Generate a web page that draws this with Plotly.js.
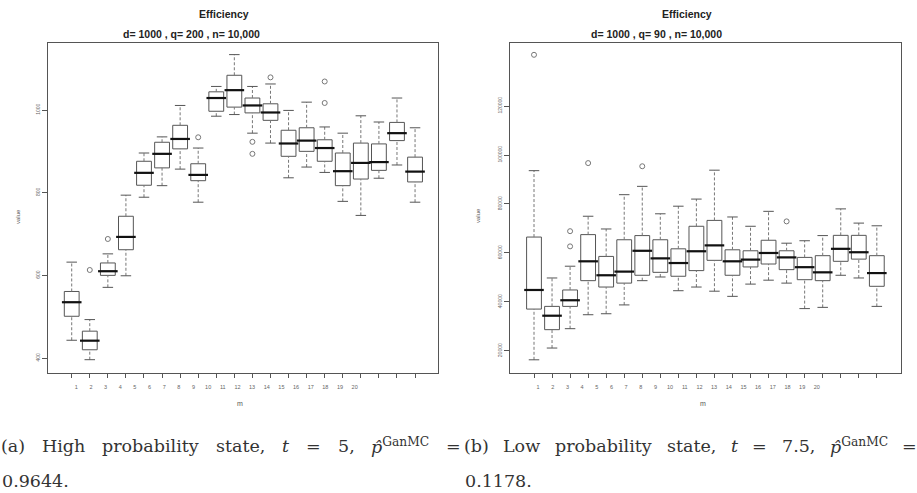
<!DOCTYPE html>
<html>
<head>
<meta charset="utf-8">
<script src="https://cdn.plot.ly/plotly-3.0.1.min.js"></script>
<style>html,body{margin:0;padding:0;background:#fff;}#chart{width:917px;height:493px;}</style>
</head>
<body>
<div id="chart"></div>
<script>
// ---------------- data ----------------
const mVals = [1,2,3,4,5,6,7,8,9,10,11,12,13,14,15,16,17,18,19,20];
const xLabels = ['1','2','3','4','5','6','7','8','9','10','11','12','13','14','15','16','17','18','19','20'];

// (a) high probability state, q = 200
const leftLower  = [443, 396, 571, 599, 789, 817, 857, 777, 985, 989, 944, 920, 836, 862, 849, 779, 745, 835, 867, 777];
const leftQ1     = [501, 420, 600, 662, 818, 860, 906, 829, 997, 1007, 993, 975, 888, 900, 876, 817, 833, 854, 926, 826];
const leftMedian = [535, 442, 610, 693, 848, 894, 930, 843, 1029, 1048, 1011, 994, 919, 926, 908, 852, 872, 874, 944, 851];
const leftQ3     = [561, 465, 630, 743, 876, 922, 963, 870, 1044, 1084, 1029, 1015, 951, 957, 928, 896, 920, 918, 970, 886];
const leftUpper  = [632, 493, 652, 794, 896, 935, 1011, 908, 1057, 1134, 1057, 1063, 999, 1019, 959, 944, 986, 971, 1029, 957];
const leftOutM   = [2, 3, 8, 11, 11, 12, 15, 15];
const leftOutV   = [613, 688, 934, 923, 894, 1079, 1069, 1017];
const leftTickVals = [400, 600, 800, 1000];
const leftTickText = ['400', '600', '800', '1000'];

// (b) low probability state, q = 90
const rightLower  = [16400, 21200, 29100, 34800, 35200, 38800, 48700, 50200, 44600, 46100, 44400, 42300, 47300, 48900, 47700, 37300, 37800, 50900, 49800, 38200];
const rightQ1     = [37100, 28700, 38200, 48700, 46100, 47700, 50900, 52100, 50500, 52800, 57000, 50900, 54300, 55500, 53200, 49100, 48700, 56600, 57500, 46400];
const rightMedian = [44900, 34400, 40700, 56600, 50900, 52400, 60900, 57800, 55900, 60700, 63100, 56600, 57300, 60000, 58200, 54200, 52100, 61700, 60300, 51800];
const rightQ3     = [66500, 38200, 44900, 67500, 58600, 65400, 67100, 65400, 61700, 70900, 73300, 61300, 60900, 65200, 60900, 58200, 58900, 67200, 67200, 58900];
const rightUpper  = [93600, 49800, 54600, 75000, 69800, 83800, 87200, 76000, 79100, 82000, 93800, 74700, 70900, 77000, 64000, 65000, 67100, 78000, 72200, 71100];
const rightOutM   = [1, 3, 3, 4, 7, 15];
const rightOutV   = [140900, 68900, 62700, 96700, 95400, 72900];
const rightTickVals = [20000, 40000, 60000, 80000, 100000, 120000];
const rightTickText = ['20000', '40000', '60000', '80000', '100000', '120000'];

const mainTitle = 'Efficiency';
const leftSub  = 'd= 1000 , q= 200 , n= 10,000';
const rightSub = 'd= 1000 , q= 90 , n= 10,000';

// ---------------- helpers ----------------
const W = 917, H = 493;
const px = x => x / W;
const py = y => 1 - y / H;
const LINE = '#555';

function panelTraces(xa, ya, lo, q1, med, q3, up, outM, outV) {
  const wx = [], wy = [];
  mVals.forEach((m, i) => {
    wx.push(m, m, null, m, m, null);
    wy.push(q3[i], up[i], null, lo[i], q1[i], null);
  });
  return [
    {type: 'box', x: mVals, q1: q1, median: med, q3: q3, lowerfence: q1, upperfence: q3,
     width: 0.82, whiskerwidth: 0, fillcolor: 'white', line: {color: LINE, width: 1},
     boxpoints: false, hoverinfo: 'skip', xaxis: xa, yaxis: ya},
    {type: 'scatter', mode: 'lines', x: wx, y: wy, line: {color: '#777', width: 1, dash: '3px,2px'},
     hoverinfo: 'skip', xaxis: xa, yaxis: ya, connectgaps: false},
    {type: 'scatter', mode: 'markers', x: mVals.concat(mVals), y: lo.concat(up),
     marker: {symbol: 'line-ew', size: 7.5, line: {width: 1, color: LINE}},
     hoverinfo: 'skip', xaxis: xa, yaxis: ya},
    {type: 'scatter', mode: 'markers', x: mVals, y: med,
     marker: {symbol: 'line-ew', size: 14, line: {width: 2.2, color: '#111'}},
     hoverinfo: 'skip', xaxis: xa, yaxis: ya},
    {type: 'scatter', mode: 'markers', x: outM, y: outV,
     marker: {symbol: 'circle-open', size: 5, color: '#777', line: {width: 1, color: '#777'}},
     hoverinfo: 'skip', xaxis: xa, yaxis: ya}
  ];
}

const traces = []
  .concat(panelTraces('x', 'y', leftLower, leftQ1, leftMedian, leftQ3, leftUpper, leftOutM, leftOutV))
  .concat(panelTraces('x2', 'y2', rightLower, rightQ1, rightMedian, rightQ3, rightUpper, rightOutM, rightOutV));
// carriers for the label axes
traces.push({type: 'scatter', mode: 'markers', x: mVals, y: mVals.map(() => null), xaxis: 'x3', yaxis: 'y', hoverinfo: 'skip'});
traces.push({type: 'scatter', mode: 'markers', x: mVals, y: mVals.map(() => null), xaxis: 'x4', yaxis: 'y2', hoverinfo: 'skip'});

const yDom = [py(373), py(43)];
const baseX = {showgrid: false, zeroline: false, showline: true, mirror: true, linecolor: LINE, linewidth: 1,
  tickvals: mVals, showticklabels: false, ticks: 'outside', ticklen: 4, tickcolor: LINE, fixedrange: true};
const baseY = {showgrid: false, zeroline: false, showline: true, mirror: true, linecolor: LINE, linewidth: 1,
  ticks: 'outside', ticklen: 5, tickcolor: LINE, tickangle: -90,
  tickfont: {size: 5, color: '#666'}, domain: yDom, fixedrange: true};
const labX = {showgrid: false, zeroline: false, showline: false, tickvals: mVals, ticktext: xLabels,
  ticks: 'outside', ticklen: 8, tickcolor: 'rgba(0,0,0,0)', tickangle: 0, tickfont: {size: 5.5, color: '#666'}, fixedrange: true};

// caption words, justified with measured widths
const cv = document.createElement('canvas').getContext('2d');
const CAP = 17.5;
const CAPFONT = 'DejaVu Serif';
function meas(t, size, it) { cv.font = (it ? 'italic ' : '') + size + 'px "' + CAPFONT + '"'; return cv.measureText(t).width; }
function justify(words, x0, x1, yy) {
  const ws = words.map(w => w.w);
  const total = ws.reduce((a, b) => a + b, 0);
  const gap = (x1 - x0 - total) / (words.length - 1);
  let x = x0; const out = [];
  words.forEach(w => {
    out.push({x: px(x), y: py(yy), xref: 'paper', yref: 'paper', xanchor: 'left', yanchor: 'middle',
      showarrow: false, text: w.t, borderpad: 0, font: {family: CAPFONT + ', serif', size: CAP, color: '#333'}});
    x += w.w + gap;
  });
  return out;
}
const pw = meas('p', CAP, true) + meas('GanMC', CAP * 0.7, false);
const phat = '<i>p\u0302</i><sup>GanMC</sup>';
const capA = [
  {t: '(a)', w: meas('(a)', CAP)}, {t: 'High', w: meas('High', CAP)}, {t: 'probability', w: meas('probability', CAP)},
  {t: 'state,', w: meas('state,', CAP)}, {t: '<i>t</i>', w: meas('t', CAP, true)}, {t: '=', w: meas('=', CAP)},
  {t: '5,', w: meas('5,', CAP)}, {t: phat, w: pw}, {t: '=', w: meas('=', CAP)}];
const capB = [
  {t: '(b)', w: meas('(b)', CAP)}, {t: 'Low', w: meas('Low', CAP)}, {t: 'probability', w: meas('probability', CAP)},
  {t: 'state,', w: meas('state,', CAP)}, {t: '<i>t</i>', w: meas('t', CAP, true)}, {t: '=', w: meas('=', CAP)},
  {t: '7.5,', w: meas('7.5,', CAP)}, {t: phat, w: pw}, {t: '=', w: meas('=', CAP)}];

function ann(text, x, y, size, extra) {
  return Object.assign({x: px(x), y: py(y), xref: 'paper', yref: 'paper', xanchor: 'center', yanchor: 'middle',
    showarrow: false, text: text, font: {family: 'Liberation Sans, Arial, sans-serif', size: size, color: '#222'}}, extra || {});
}

const annotations = [
  ann('<b>' + mainTitle + '</b>', 224, 14, 10.5),
  ann('<b>' + leftSub + '</b>', 191, 34, 10.5),
  ann('<b>' + mainTitle + '</b>', 687, 14, 10.5),
  ann('<b>' + rightSub + '</b>', 656, 34, 10.5),
  ann('value', 18, 217, 6, {textangle: -90, font: {family: 'Liberation Sans, Arial, sans-serif', size: 6, color: '#555'}}),
  ann('value', 478, 215, 6, {textangle: -90, font: {family: 'Liberation Sans, Arial, sans-serif', size: 6, color: '#555'}}),
  ann('m', 240, 403, 7, {font: {family: 'Liberation Sans, Arial, sans-serif', size: 7, color: '#555'}}),
  ann('m', 703, 403, 7, {font: {family: 'Liberation Sans, Arial, sans-serif', size: 7, color: '#555'}}),
  ann('0.9644.', 0, 481, CAP, {xanchor: 'left', font: {family: CAPFONT + ', serif', size: CAP, color: '#333'}}),
  ann('0.1178.', 463, 481, CAP, {xanchor: 'left', font: {family: CAPFONT + ', serif', size: CAP, color: '#333'}})
].concat(justify(capA, 0, 460, 446)).concat(justify(capB, 463, 916, 446));

const layout = {
  width: W, height: H, margin: {l: 0, r: 0, t: 0, b: 0},
  paper_bgcolor: 'white', plot_bgcolor: 'white', showlegend: false,
  font: {family: 'Liberation Sans, Arial, sans-serif', color: '#333'},
  xaxis: Object.assign({}, baseX, {domain: [px(48), px(438)], range: [-0.312, 21.27], anchor: 'y'}),
  yaxis: Object.assign({}, baseY, {range: [363.8, 1162.1], tickvals: leftTickVals, ticktext: leftTickText, anchor: 'x'}),
  xaxis2: Object.assign({}, baseX, {domain: [px(510), px(901)], range: [-0.33, 21.34], anchor: 'y2'}),
  yaxis2: Object.assign({}, baseY, {range: [11010, 145717], tickvals: rightTickVals, ticktext: rightTickText, anchor: 'x2'}),
  xaxis3: Object.assign({}, labX, {overlaying: 'x', anchor: 'y', range: [-0.932, 25.69]}),
  xaxis4: Object.assign({}, labX, {overlaying: 'x2', anchor: 'y2', range: [-0.915, 25.74]}),
  annotations: annotations
};

Plotly.newPlot('chart', traces, layout, {displayModeBar: false, staticPlot: true});
</script>
</body>
</html>
